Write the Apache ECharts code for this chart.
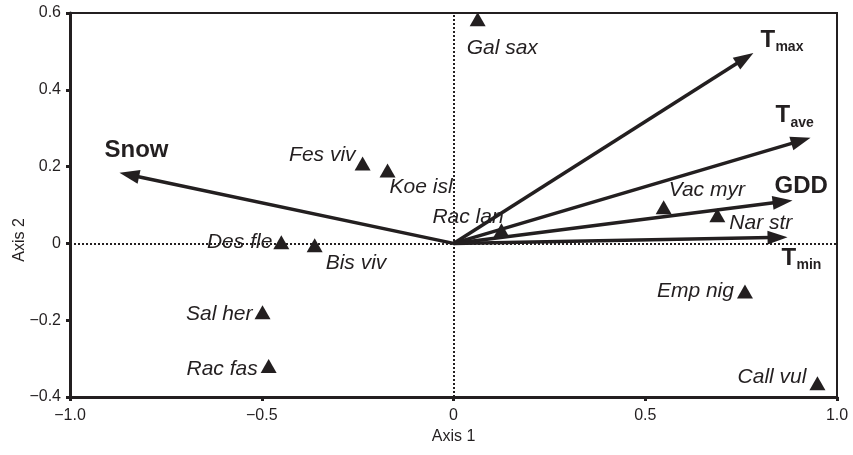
<!DOCTYPE html>
<html>
<head>
<meta charset="utf-8">
<script src="https://cdn.jsdelivr.net/npm/echarts@6/dist/echarts.min.js"></script>
<style>
  html, body { margin: 0; padding: 0; background: #fff; }
  #chart { width: 853px; height: 455px; }
</style>
</head>
<body>
<div id="chart"></div>
<script>
// Species scores on the first two ordination axes
const speciesNames = ['Gal sax', 'Fes viv', 'Koe isl', 'Rac lan', 'Des fle', 'Bis viv',
                      'Sal her', 'Rac fas', 'Vac myr', 'Nar str', 'Emp nig', 'Call vul'];
const speciesAxis1 = [0.063, -0.237, -0.172, 0.125, -0.449, -0.362,
                      -0.498, -0.482, 0.548, 0.688, 0.760, 0.949];
const speciesAxis2 = [0.584, 0.208, 0.190, 0.034, 0.003, -0.005,
                      -0.179, -0.319, 0.094, 0.073, -0.125, -0.364];

// Environmental variable vectors (biplot arrows from the origin)
const envNames = ['Snow', 'Tmax', 'Tave', 'GDD', 'Tmin'];
const envAxis1 = [-0.871, 0.782, 0.931, 0.884, 0.871];
const envAxis2 = [0.184, 0.496, 0.275, 0.112, 0.016];

// Axis ticks
const xTicks = [-1.0, -0.5, 0, 0.5, 1.0];
const yTicks = [-0.4, -0.2, 0, 0.2, 0.4, 0.6];

const INK = '#231f20';
const FONT = 'Liberation Sans, Arial, Helvetica, sans-serif';

// Label placement for species (pixel offsets from the marker centre)
const speciesLabelLayout = {
  'Gal sax': { dx: -11, dy: 29, align: 'left' },
  'Fes viv': { dx: -7, dy: -8, align: 'right' },
  'Koe isl': { dx: 2, dy: 17, align: 'left' },
  'Rac lan': { dx: -69, dy: -13, align: 'left' },
  'Des fle': { dx: -9, dy: 0, align: 'right' },
  'Bis viv': { dx: 11, dy: 18, align: 'left' },
  'Sal her': { dx: -10, dy: 2, align: 'right' },
  'Rac fas': { dx: -11, dy: 3, align: 'right' },
  'Vac myr': { dx: 5, dy: -17, align: 'left' },
  'Nar str': { dx: 12, dy: 8, align: 'left' },
  'Emp nig': { dx: -11, dy: 0, align: 'right' },
  'Call vul': { dx: -11, dy: -6, align: 'right' }
};

// Arrow label placement (offsets from the arrow tip); main glyph + optional subscript
const envLabelLayout = {
  'Snow': { main: 'Snow', sub: '', dx: -15, dy: -22 },
  'Tmax': { main: 'T', sub: 'max', dx: 7, dy: -13 },
  'Tave': { main: 'T', sub: 'ave', dx: -35, dy: -22 },
  'GDD':  { main: 'GDD', sub: '', dx: -18, dy: -14 },
  'Tmin': { main: 'T', sub: 'min', dx: -6, dy: 21 }
};

const MARK_W = 16, MARK_H = 14;

const speciesData = speciesNames.map((name, i) => {
  const lay = speciesLabelLayout[name];
  return {
    name: name,
    value: [speciesAxis1[i], speciesAxis2[i]],
    label: {
      position: [MARK_W / 2 + lay.dx, MARK_H / 2 + lay.dy],
      align: lay.align,
      verticalAlign: 'middle'
    }
  };
});

const envData = envNames.map((name, i) => ({ name: name, value: [envAxis1[i], envAxis2[i]] }));

function fmt(v) {
  if (Math.abs(v) < 1e-9) return '0';
  const s = Math.abs(v).toFixed(1);
  return v < 0 ? '\u2212' + s : s;
}

function renderArrow(params, api) {
  const name = envNames[params.dataIndex];
  const o = api.coord([0, 0]);
  const t = api.coord([api.value(0), api.value(1)]);
  const vx = t[0] - o[0], vy = t[1] - o[1];
  const len = Math.sqrt(vx * vx + vy * vy);
  const ux = vx / len, uy = vy / len;
  const px = -uy, py = ux;
  const headLen = 20, headHalf = 7;
  const bx = t[0] - ux * headLen, by = t[1] - uy * headLen;
  const lay = envLabelLayout[name];
  const children = [
    {
      type: 'line',
      shape: { x1: o[0], y1: o[1], x2: t[0] - ux * (headLen - 3), y2: t[1] - uy * (headLen - 3) },
      style: { stroke: INK, lineWidth: 3.5 }
    },
    {
      type: 'polygon',
      shape: { points: [[t[0], t[1]], [bx + px * headHalf, by + py * headHalf], [bx - px * headHalf, by - py * headHalf]] },
      style: { fill: INK }
    },
    {
      type: 'text',
      x: t[0] + lay.dx,
      y: t[1] + lay.dy,
      style: {
        text: lay.main, fill: INK, fontFamily: FONT, fontWeight: 'bold', fontSize: 24,
        align: 'left', verticalAlign: 'middle'
      }
    }
  ];
  if (lay.sub) {
    children.push({
      type: 'text',
      x: t[0] + lay.dx + 15,
      y: t[1] + lay.dy + 14,
      style: {
        text: lay.sub, fill: INK, fontFamily: FONT, fontWeight: 'bold', fontSize: 14,
        align: 'left', verticalAlign: 'bottom'
      }
    });
  }
  return { type: 'group', children: children };
}

const chart = echarts.init(document.getElementById('chart'), null, { renderer: 'canvas' });

chart.setOption({
  animation: false,
  backgroundColor: '#ffffff',
  grid: {
    left: 70, right: 16, top: 13, bottom: 58,
    show: true, borderColor: INK, borderWidth: 2, backgroundColor: 'transparent'
  },
  xAxis: {
    type: 'value',
    min: xTicks[0], max: xTicks[xTicks.length - 1], interval: 0.5,
    name: 'Axis 1', nameLocation: 'middle', nameGap: 32,
    nameTextStyle: { color: INK, fontFamily: FONT, fontSize: 16 },
    axisLine: { show: true, onZero: false, lineStyle: { color: INK, width: 3 } },
    axisTick: { show: true, length: 4, lineStyle: { color: INK, width: 3 } },
    axisLabel: { color: INK, fontFamily: FONT, fontSize: 16, margin: 11, formatter: fmt },
    splitLine: { show: false }
  },
  yAxis: {
    type: 'value',
    min: yTicks[0], max: yTicks[yTicks.length - 1], interval: 0.2,
    axisLine: { show: true, onZero: false, lineStyle: { color: INK, width: 3 } },
    axisTick: { show: true, length: 4, lineStyle: { color: INK, width: 3 } },
    axisLabel: { color: INK, fontFamily: FONT, fontSize: 16, margin: 9, formatter: fmt },
    splitLine: { show: false }
  },
  graphic: [
    {
      type: 'text', x: 20, y: 240, rotation: Math.PI / 2,
      style: { text: 'Axis 2', fill: INK, fontFamily: FONT, fontSize: 16, align: 'center', verticalAlign: 'middle' }
    }
  ],
  series: [
    {
      // dotted zero reference lines
      type: 'scatter', data: [], z: 1, silent: true,
      markLine: {
        silent: true, symbol: 'none', animation: false,
        label: { show: false },
        lineStyle: { color: INK, type: 'dotted', width: 2, opacity: 1 },
        data: [{ xAxis: 0 }, { yAxis: 0 }]
      }
    },
    {
      type: 'custom', z: 3, silent: true,
      renderItem: renderArrow,
      data: envData
    },
    {
      type: 'scatter', z: 4, silent: true,
      symbol: 'triangle', symbolSize: [MARK_W, MARK_H],
      itemStyle: { color: INK, opacity: 1 },
      label: {
        show: true, formatter: '{b}', color: INK, fontFamily: FONT,
        fontStyle: 'italic', fontSize: 21, opacity: 1
      },
      data: speciesData
    }
  ]
});
</script>
</body>
</html>
